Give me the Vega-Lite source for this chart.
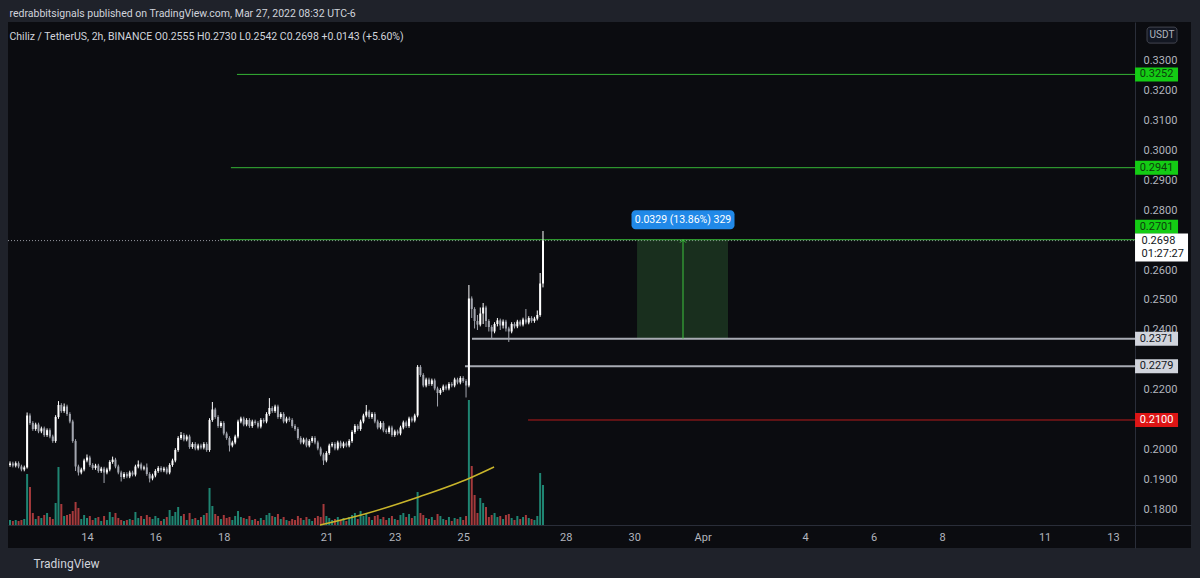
{
"$schema":"https://vega.github.io/schema/vega-lite/v6.json",
"width":1183,"height":526,
"autosize":{"type":"none"},
"padding":{"left":8,"top":22,"right":9,"bottom":30},
"background":"#1f222a",
"title":{"text":"redrabbitsignals published on TradingView.com, Mar 27, 2022 08:32 UTC-6","subtitle":"Chiliz / TetherUS, 2h, BINANCE  O0.2555  H0.2730  L0.2542  C0.2698  +0.0143 (+5.60%)","anchor":"start","offset":-20,"font":"Roboto","fontSize":10.5,"fontWeight":"normal","color":"#d1d4dc","subtitleFont":"Roboto","subtitleFontSize":10.5,"subtitleColor":"#d1d4dc","subtitlePadding":12,"dx":2},
"datasets":{
"candles":[
{"t":"2022-03-11T18:00","o":0.1950,"h":0.1962,"l":0.1944,"c":0.1955,"v":5},
{"t":"2022-03-11T20:00","o":0.1955,"h":0.1961,"l":0.1942,"c":0.1948,"v":4},
{"t":"2022-03-11T22:00","o":0.1948,"h":0.1962,"l":0.1942,"c":0.1956,"v":5},
{"t":"2022-03-12T00:00","o":0.1956,"h":0.1962,"l":0.1939,"c":0.1945,"v":4},
{"t":"2022-03-12T02:00","o":0.1945,"h":0.1951,"l":0.1929,"c":0.1935,"v":5},
{"t":"2022-03-12T04:00","o":0.1935,"h":0.1948,"l":0.1929,"c":0.1942,"v":6},
{"t":"2022-03-12T06:00","o":0.1942,"h":0.2125,"l":0.1938,"c":0.2115,"v":51},
{"t":"2022-03-12T08:00","o":0.2115,"h":0.2122,"l":0.2084,"c":0.2090,"v":38},
{"t":"2022-03-12T10:00","o":0.2090,"h":0.2096,"l":0.2064,"c":0.2070,"v":12},
{"t":"2022-03-12T12:00","o":0.2070,"h":0.2091,"l":0.2064,"c":0.2085,"v":6},
{"t":"2022-03-12T14:00","o":0.2085,"h":0.2091,"l":0.2056,"c":0.2062,"v":9},
{"t":"2022-03-12T16:00","o":0.2062,"h":0.2078,"l":0.2056,"c":0.2072,"v":7},
{"t":"2022-03-12T18:00","o":0.2072,"h":0.2078,"l":0.2044,"c":0.2050,"v":10},
{"t":"2022-03-12T20:00","o":0.2050,"h":0.2072,"l":0.2044,"c":0.2066,"v":12},
{"t":"2022-03-12T22:00","o":0.2066,"h":0.2072,"l":0.2039,"c":0.2045,"v":8},
{"t":"2022-03-13T00:00","o":0.2045,"h":0.2051,"l":0.2024,"c":0.2030,"v":6},
{"t":"2022-03-13T02:00","o":0.2030,"h":0.2116,"l":0.2024,"c":0.2110,"v":22},
{"t":"2022-03-13T04:00","o":0.2110,"h":0.2163,"l":0.2104,"c":0.2150,"v":58},
{"t":"2022-03-13T06:00","o":0.2150,"h":0.2156,"l":0.2124,"c":0.2130,"v":21},
{"t":"2022-03-13T08:00","o":0.2130,"h":0.2155,"l":0.2124,"c":0.2145,"v":9},
{"t":"2022-03-13T10:00","o":0.2145,"h":0.2151,"l":0.2114,"c":0.2120,"v":10},
{"t":"2022-03-13T12:00","o":0.2120,"h":0.2126,"l":0.2089,"c":0.2095,"v":11},
{"t":"2022-03-13T14:00","o":0.2095,"h":0.2101,"l":0.2024,"c":0.2030,"v":14},
{"t":"2022-03-13T16:00","o":0.2030,"h":0.2036,"l":0.1930,"c":0.1945,"v":23},
{"t":"2022-03-13T18:00","o":0.1945,"h":0.1951,"l":0.1915,"c":0.1925,"v":17},
{"t":"2022-03-13T20:00","o":0.1925,"h":0.1941,"l":0.1919,"c":0.1935,"v":6},
{"t":"2022-03-13T22:00","o":0.1935,"h":0.1971,"l":0.1929,"c":0.1965,"v":10},
{"t":"2022-03-14T00:00","o":0.1965,"h":0.1985,"l":0.1959,"c":0.1975,"v":7},
{"t":"2022-03-14T02:00","o":0.1975,"h":0.1981,"l":0.1944,"c":0.1950,"v":9},
{"t":"2022-03-14T04:00","o":0.1950,"h":0.1956,"l":0.1934,"c":0.1940,"v":5},
{"t":"2022-03-14T06:00","o":0.1940,"h":0.1954,"l":0.1934,"c":0.1948,"v":7},
{"t":"2022-03-14T08:00","o":0.1948,"h":0.1954,"l":0.1924,"c":0.1930,"v":8},
{"t":"2022-03-14T10:00","o":0.1930,"h":0.1944,"l":0.1924,"c":0.1938,"v":4},
{"t":"2022-03-14T12:00","o":0.1938,"h":0.1944,"l":0.1890,"c":0.1925,"v":9},
{"t":"2022-03-14T14:00","o":0.1925,"h":0.1941,"l":0.1919,"c":0.1935,"v":5},
{"t":"2022-03-14T16:00","o":0.1935,"h":0.1966,"l":0.1929,"c":0.1960,"v":13},
{"t":"2022-03-14T18:00","o":0.1960,"h":0.1978,"l":0.1954,"c":0.1968,"v":8},
{"t":"2022-03-14T20:00","o":0.1968,"h":0.1974,"l":0.1939,"c":0.1945,"v":12},
{"t":"2022-03-14T22:00","o":0.1945,"h":0.1951,"l":0.1919,"c":0.1925,"v":7},
{"t":"2022-03-15T00:00","o":0.1925,"h":0.1931,"l":0.1895,"c":0.1910,"v":5},
{"t":"2022-03-15T02:00","o":0.1910,"h":0.1926,"l":0.1904,"c":0.1920,"v":4},
{"t":"2022-03-15T04:00","o":0.1920,"h":0.1926,"l":0.1906,"c":0.1912,"v":5},
{"t":"2022-03-15T06:00","o":0.1912,"h":0.1931,"l":0.1906,"c":0.1925,"v":6},
{"t":"2022-03-15T08:00","o":0.1925,"h":0.1931,"l":0.1912,"c":0.1918,"v":5},
{"t":"2022-03-15T10:00","o":0.1918,"h":0.1951,"l":0.1912,"c":0.1945,"v":13},
{"t":"2022-03-15T12:00","o":0.1945,"h":0.1965,"l":0.1939,"c":0.1952,"v":7},
{"t":"2022-03-15T14:00","o":0.1952,"h":0.1958,"l":0.1932,"c":0.1938,"v":9},
{"t":"2022-03-15T16:00","o":0.1938,"h":0.1948,"l":0.1932,"c":0.1942,"v":6},
{"t":"2022-03-15T18:00","o":0.1942,"h":0.1955,"l":0.1914,"c":0.1920,"v":10},
{"t":"2022-03-15T20:00","o":0.1920,"h":0.1926,"l":0.1892,"c":0.1905,"v":8},
{"t":"2022-03-15T22:00","o":0.1905,"h":0.1921,"l":0.1899,"c":0.1915,"v":6},
{"t":"2022-03-16T00:00","o":0.1915,"h":0.1936,"l":0.1909,"c":0.1930,"v":9},
{"t":"2022-03-16T02:00","o":0.1930,"h":0.1946,"l":0.1924,"c":0.1940,"v":7},
{"t":"2022-03-16T04:00","o":0.1940,"h":0.1946,"l":0.1926,"c":0.1932,"v":4},
{"t":"2022-03-16T06:00","o":0.1932,"h":0.1944,"l":0.1926,"c":0.1938,"v":6},
{"t":"2022-03-16T08:00","o":0.1938,"h":0.1944,"l":0.1919,"c":0.1925,"v":8},
{"t":"2022-03-16T10:00","o":0.1925,"h":0.1956,"l":0.1919,"c":0.1950,"v":15},
{"t":"2022-03-16T12:00","o":0.1950,"h":0.1971,"l":0.1944,"c":0.1965,"v":9},
{"t":"2022-03-16T14:00","o":0.1965,"h":0.2006,"l":0.1959,"c":0.2000,"v":13},
{"t":"2022-03-16T16:00","o":0.2000,"h":0.2046,"l":0.1994,"c":0.2040,"v":18},
{"t":"2022-03-16T18:00","o":0.2040,"h":0.2060,"l":0.2034,"c":0.2050,"v":9},
{"t":"2022-03-16T20:00","o":0.2050,"h":0.2056,"l":0.2029,"c":0.2035,"v":11},
{"t":"2022-03-16T22:00","o":0.2035,"h":0.2051,"l":0.2029,"c":0.2045,"v":5},
{"t":"2022-03-17T00:00","o":0.2045,"h":0.2051,"l":0.2004,"c":0.2010,"v":12},
{"t":"2022-03-17T02:00","o":0.2010,"h":0.2026,"l":0.2004,"c":0.2020,"v":6},
{"t":"2022-03-17T04:00","o":0.2020,"h":0.2026,"l":0.1999,"c":0.2005,"v":7},
{"t":"2022-03-17T06:00","o":0.2005,"h":0.2021,"l":0.1999,"c":0.2015,"v":5},
{"t":"2022-03-17T08:00","o":0.2015,"h":0.2021,"l":0.2002,"c":0.2008,"v":8},
{"t":"2022-03-17T10:00","o":0.2008,"h":0.2026,"l":0.2002,"c":0.2020,"v":10},
{"t":"2022-03-17T12:00","o":0.2020,"h":0.2026,"l":0.1994,"c":0.2000,"v":12},
{"t":"2022-03-17T14:00","o":0.2000,"h":0.2106,"l":0.1994,"c":0.2100,"v":37},
{"t":"2022-03-17T16:00","o":0.2100,"h":0.2160,"l":0.2094,"c":0.2135,"v":19},
{"t":"2022-03-17T18:00","o":0.2135,"h":0.2141,"l":0.2104,"c":0.2110,"v":11},
{"t":"2022-03-17T20:00","o":0.2110,"h":0.2116,"l":0.2074,"c":0.2080,"v":9},
{"t":"2022-03-17T22:00","o":0.2080,"h":0.2096,"l":0.2074,"c":0.2090,"v":6},
{"t":"2022-03-18T00:00","o":0.2090,"h":0.2096,"l":0.2049,"c":0.2055,"v":10},
{"t":"2022-03-18T02:00","o":0.2055,"h":0.2061,"l":0.2034,"c":0.2040,"v":7},
{"t":"2022-03-18T04:00","o":0.2040,"h":0.2046,"l":0.1995,"c":0.2015,"v":8},
{"t":"2022-03-18T06:00","o":0.2015,"h":0.2031,"l":0.2009,"c":0.2025,"v":5},
{"t":"2022-03-18T08:00","o":0.2025,"h":0.2051,"l":0.2019,"c":0.2045,"v":9},
{"t":"2022-03-18T10:00","o":0.2045,"h":0.2101,"l":0.2039,"c":0.2095,"v":14},
{"t":"2022-03-18T12:00","o":0.2095,"h":0.2111,"l":0.2089,"c":0.2105,"v":8},
{"t":"2022-03-18T14:00","o":0.2105,"h":0.2111,"l":0.2079,"c":0.2085,"v":7},
{"t":"2022-03-18T16:00","o":0.2085,"h":0.2106,"l":0.2079,"c":0.2100,"v":6},
{"t":"2022-03-18T18:00","o":0.2100,"h":0.2106,"l":0.2074,"c":0.2080,"v":9},
{"t":"2022-03-18T20:00","o":0.2080,"h":0.2101,"l":0.2074,"c":0.2095,"v":5},
{"t":"2022-03-18T22:00","o":0.2095,"h":0.2101,"l":0.2084,"c":0.2090,"v":6},
{"t":"2022-03-19T00:00","o":0.2090,"h":0.2096,"l":0.2072,"c":0.2078,"v":4},
{"t":"2022-03-19T02:00","o":0.2078,"h":0.2106,"l":0.2072,"c":0.2100,"v":7},
{"t":"2022-03-19T04:00","o":0.2100,"h":0.2106,"l":0.2089,"c":0.2095,"v":5},
{"t":"2022-03-19T06:00","o":0.2095,"h":0.2126,"l":0.2089,"c":0.2120,"v":10},
{"t":"2022-03-19T08:00","o":0.2120,"h":0.2173,"l":0.2114,"c":0.2140,"v":12},
{"t":"2022-03-19T10:00","o":0.2140,"h":0.2146,"l":0.2124,"c":0.2130,"v":9},
{"t":"2022-03-19T12:00","o":0.2130,"h":0.2151,"l":0.2124,"c":0.2145,"v":8},
{"t":"2022-03-19T14:00","o":0.2145,"h":0.2151,"l":0.2104,"c":0.2110,"v":11},
{"t":"2022-03-19T16:00","o":0.2110,"h":0.2126,"l":0.2104,"c":0.2120,"v":6},
{"t":"2022-03-19T18:00","o":0.2120,"h":0.2126,"l":0.2089,"c":0.2095,"v":8},
{"t":"2022-03-19T20:00","o":0.2095,"h":0.2111,"l":0.2089,"c":0.2105,"v":5},
{"t":"2022-03-19T22:00","o":0.2105,"h":0.2111,"l":0.2094,"c":0.2100,"v":4},
{"t":"2022-03-20T00:00","o":0.2100,"h":0.2106,"l":0.2074,"c":0.2080,"v":6},
{"t":"2022-03-20T02:00","o":0.2080,"h":0.2086,"l":0.2064,"c":0.2070,"v":5},
{"t":"2022-03-20T04:00","o":0.2070,"h":0.2076,"l":0.2034,"c":0.2040,"v":9},
{"t":"2022-03-20T06:00","o":0.2040,"h":0.2046,"l":0.2019,"c":0.2025,"v":7},
{"t":"2022-03-20T08:00","o":0.2025,"h":0.2041,"l":0.2019,"c":0.2035,"v":5},
{"t":"2022-03-20T10:00","o":0.2035,"h":0.2041,"l":0.2009,"c":0.2015,"v":8},
{"t":"2022-03-20T12:00","o":0.2015,"h":0.2036,"l":0.2009,"c":0.2030,"v":6},
{"t":"2022-03-20T14:00","o":0.2030,"h":0.2046,"l":0.2024,"c":0.2040,"v":4},
{"t":"2022-03-20T16:00","o":0.2040,"h":0.2046,"l":0.2019,"c":0.2025,"v":7},
{"t":"2022-03-20T18:00","o":0.2025,"h":0.2031,"l":0.1999,"c":0.2005,"v":9},
{"t":"2022-03-20T20:00","o":0.2005,"h":0.2011,"l":0.1979,"c":0.1985,"v":8},
{"t":"2022-03-20T22:00","o":0.1985,"h":0.1991,"l":0.1950,"c":0.1965,"v":21},
{"t":"2022-03-21T00:00","o":0.1965,"h":0.1996,"l":0.1959,"c":0.1990,"v":9},
{"t":"2022-03-21T02:00","o":0.1990,"h":0.2021,"l":0.1984,"c":0.2015,"v":7},
{"t":"2022-03-21T04:00","o":0.2015,"h":0.2026,"l":0.2009,"c":0.2020,"v":5},
{"t":"2022-03-21T06:00","o":0.2020,"h":0.2026,"l":0.1999,"c":0.2005,"v":6},
{"t":"2022-03-21T08:00","o":0.2005,"h":0.2031,"l":0.1999,"c":0.2025,"v":8},
{"t":"2022-03-21T10:00","o":0.2025,"h":0.2031,"l":0.2006,"c":0.2012,"v":5},
{"t":"2022-03-21T12:00","o":0.2012,"h":0.2028,"l":0.2006,"c":0.2022,"v":7},
{"t":"2022-03-21T14:00","o":0.2022,"h":0.2028,"l":0.2009,"c":0.2015,"v":4},
{"t":"2022-03-21T16:00","o":0.2015,"h":0.2036,"l":0.2009,"c":0.2030,"v":8},
{"t":"2022-03-21T18:00","o":0.2030,"h":0.2066,"l":0.2024,"c":0.2060,"v":10},
{"t":"2022-03-21T20:00","o":0.2060,"h":0.2086,"l":0.2054,"c":0.2080,"v":12},
{"t":"2022-03-21T22:00","o":0.2080,"h":0.2086,"l":0.2064,"c":0.2070,"v":6},
{"t":"2022-03-22T00:00","o":0.2070,"h":0.2101,"l":0.2064,"c":0.2095,"v":14},
{"t":"2022-03-22T02:00","o":0.2095,"h":0.2121,"l":0.2089,"c":0.2115,"v":9},
{"t":"2022-03-22T04:00","o":0.2115,"h":0.2150,"l":0.2109,"c":0.2128,"v":11},
{"t":"2022-03-22T06:00","o":0.2128,"h":0.2134,"l":0.2104,"c":0.2110,"v":8},
{"t":"2022-03-22T08:00","o":0.2110,"h":0.2126,"l":0.2104,"c":0.2120,"v":5},
{"t":"2022-03-22T10:00","o":0.2120,"h":0.2126,"l":0.2089,"c":0.2095,"v":9},
{"t":"2022-03-22T12:00","o":0.2095,"h":0.2101,"l":0.2069,"c":0.2075,"v":10},
{"t":"2022-03-22T14:00","o":0.2075,"h":0.2096,"l":0.2069,"c":0.2090,"v":6},
{"t":"2022-03-22T16:00","o":0.2090,"h":0.2096,"l":0.2059,"c":0.2065,"v":8},
{"t":"2022-03-22T18:00","o":0.2065,"h":0.2071,"l":0.2054,"c":0.2060,"v":5},
{"t":"2022-03-22T20:00","o":0.2060,"h":0.2081,"l":0.2054,"c":0.2075,"v":7},
{"t":"2022-03-22T22:00","o":0.2075,"h":0.2081,"l":0.2044,"c":0.2050,"v":9},
{"t":"2022-03-23T00:00","o":0.2050,"h":0.2068,"l":0.2044,"c":0.2062,"v":6},
{"t":"2022-03-23T02:00","o":0.2062,"h":0.2068,"l":0.2049,"c":0.2055,"v":5},
{"t":"2022-03-23T04:00","o":0.2055,"h":0.2081,"l":0.2049,"c":0.2075,"v":10},
{"t":"2022-03-23T06:00","o":0.2075,"h":0.2098,"l":0.2069,"c":0.2092,"v":12},
{"t":"2022-03-23T08:00","o":0.2092,"h":0.2098,"l":0.2074,"c":0.2080,"v":8},
{"t":"2022-03-23T10:00","o":0.2080,"h":0.2111,"l":0.2074,"c":0.2105,"v":11},
{"t":"2022-03-23T12:00","o":0.2105,"h":0.2111,"l":0.2092,"c":0.2098,"v":7},
{"t":"2022-03-23T14:00","o":0.2098,"h":0.2121,"l":0.2092,"c":0.2115,"v":9},
{"t":"2022-03-23T16:00","o":0.2115,"h":0.2283,"l":0.2109,"c":0.2277,"v":33},
{"t":"2022-03-23T18:00","o":0.2277,"h":0.2283,"l":0.2244,"c":0.2250,"v":12},
{"t":"2022-03-23T20:00","o":0.2250,"h":0.2256,"l":0.2209,"c":0.2215,"v":10},
{"t":"2022-03-23T22:00","o":0.2215,"h":0.2241,"l":0.2209,"c":0.2235,"v":7},
{"t":"2022-03-24T00:00","o":0.2235,"h":0.2241,"l":0.2214,"c":0.2220,"v":6},
{"t":"2022-03-24T02:00","o":0.2220,"h":0.2238,"l":0.2214,"c":0.2232,"v":8},
{"t":"2022-03-24T04:00","o":0.2232,"h":0.2238,"l":0.2199,"c":0.2205,"v":5},
{"t":"2022-03-24T06:00","o":0.2205,"h":0.2211,"l":0.2145,"c":0.2190,"v":11},
{"t":"2022-03-24T08:00","o":0.2190,"h":0.2206,"l":0.2184,"c":0.2200,"v":9},
{"t":"2022-03-24T10:00","o":0.2200,"h":0.2218,"l":0.2194,"c":0.2212,"v":6},
{"t":"2022-03-24T12:00","o":0.2212,"h":0.2218,"l":0.2199,"c":0.2205,"v":5},
{"t":"2022-03-24T14:00","o":0.2205,"h":0.2226,"l":0.2199,"c":0.2220,"v":8},
{"t":"2022-03-24T16:00","o":0.2220,"h":0.2226,"l":0.2209,"c":0.2215,"v":4},
{"t":"2022-03-24T18:00","o":0.2215,"h":0.2241,"l":0.2209,"c":0.2235,"v":7},
{"t":"2022-03-24T20:00","o":0.2235,"h":0.2241,"l":0.2219,"c":0.2225,"v":6},
{"t":"2022-03-24T22:00","o":0.2225,"h":0.2246,"l":0.2219,"c":0.2240,"v":8},
{"t":"2022-03-25T00:00","o":0.2240,"h":0.2246,"l":0.2224,"c":0.2230,"v":5},
{"t":"2022-03-25T02:00","o":0.2230,"h":0.2236,"l":0.2175,"c":0.2215,"v":9},
{"t":"2022-03-25T04:00","o":0.2215,"h":0.2550,"l":0.2209,"c":0.2505,"v":125},
{"t":"2022-03-25T06:00","o":0.2505,"h":0.2512,"l":0.2440,"c":0.2470,"v":59},
{"t":"2022-03-25T08:00","o":0.2470,"h":0.2476,"l":0.2405,"c":0.2430,"v":30},
{"t":"2022-03-25T10:00","o":0.2430,"h":0.2450,"l":0.2400,"c":0.2418,"v":12},
{"t":"2022-03-25T12:00","o":0.2418,"h":0.2475,"l":0.2412,"c":0.2455,"v":27},
{"t":"2022-03-25T14:00","o":0.2455,"h":0.2490,"l":0.2420,"c":0.2475,"v":22},
{"t":"2022-03-25T16:00","o":0.2475,"h":0.2481,"l":0.2410,"c":0.2430,"v":18},
{"t":"2022-03-25T18:00","o":0.2430,"h":0.2436,"l":0.2395,"c":0.2410,"v":8},
{"t":"2022-03-25T20:00","o":0.2410,"h":0.2416,"l":0.2370,"c":0.2395,"v":10},
{"t":"2022-03-25T22:00","o":0.2395,"h":0.2426,"l":0.2389,"c":0.2420,"v":12},
{"t":"2022-03-26T00:00","o":0.2420,"h":0.2440,"l":0.2412,"c":0.2432,"v":8},
{"t":"2022-03-26T02:00","o":0.2432,"h":0.2438,"l":0.2400,"c":0.2415,"v":9},
{"t":"2022-03-26T04:00","o":0.2415,"h":0.2435,"l":0.2405,"c":0.2428,"v":6},
{"t":"2022-03-26T06:00","o":0.2428,"h":0.2434,"l":0.2395,"c":0.2405,"v":10},
{"t":"2022-03-26T08:00","o":0.2405,"h":0.2411,"l":0.2360,"c":0.2395,"v":11},
{"t":"2022-03-26T10:00","o":0.2395,"h":0.2426,"l":0.2389,"c":0.2420,"v":7},
{"t":"2022-03-26T12:00","o":0.2420,"h":0.2426,"l":0.2405,"c":0.2412,"v":5},
{"t":"2022-03-26T14:00","o":0.2412,"h":0.2434,"l":0.2406,"c":0.2428,"v":9},
{"t":"2022-03-26T16:00","o":0.2428,"h":0.2434,"l":0.2412,"c":0.2418,"v":6},
{"t":"2022-03-26T18:00","o":0.2418,"h":0.2441,"l":0.2412,"c":0.2435,"v":8},
{"t":"2022-03-26T20:00","o":0.2435,"h":0.2470,"l":0.2419,"c":0.2425,"v":10},
{"t":"2022-03-26T22:00","o":0.2425,"h":0.2446,"l":0.2419,"c":0.2440,"v":7},
{"t":"2022-03-27T00:00","o":0.2440,"h":0.2446,"l":0.2424,"c":0.2430,"v":6},
{"t":"2022-03-27T02:00","o":0.2430,"h":0.2444,"l":0.2424,"c":0.2438,"v":5},
{"t":"2022-03-27T04:00","o":0.2438,"h":0.2465,"l":0.2432,"c":0.2450,"v":9},
{"t":"2022-03-27T06:00","o":0.2450,"h":0.2590,"l":0.2444,"c":0.2555,"v":52},
{"t":"2022-03-27T08:00","o":0.2555,"h":0.2730,"l":0.2542,"c":0.2698,"v":40}
],
"levels":[
{"t":"2022-03-18T09:15","level":0.3252,"kind":"tp"},
{"t":"2022-03-18T05:00","level":0.2941,"kind":"tp"},
{"t":"2022-03-17T21:20","level":0.2701,"kind":"tp"},
{"t":"2022-03-25T06:10","level":0.2371,"kind":"entry"},
{"t":"2022-03-25T01:15","level":0.2279,"kind":"entry"},
{"t":"2022-03-26T21:30","level":0.2100,"kind":"stop"}
],
"curve":[
{"t":"2022-03-20T19:30","v":0},
{"t":"2022-03-22T01:40","v":10.5},
{"t":"2022-03-23T17:45","v":28.5},
{"t":"2022-03-25T04:50","v":47},
{"t":"2022-03-25T21:40","v":58}
],
"measure":[
{"t":"2022-03-30T02:00","t2":"2022-04-01T17:50","tm":"2022-03-31T10:15","low":0.2371,"high":0.2701,"label":"0.0329 (13.86%) 329"}
],
"current":[{"t":"2022-03-27T08:00","price":0.2698,"timer":"01:27:27","unit":"USDT"}]
},
"encoding":{
"x":{"field":"t","type":"temporal",
"scale":{"domain":[{"year":2022,"month":3,"date":11,"hours":16,"minutes":35},{"year":2022,"month":4,"date":15,"hours":6,"minutes":43}]},
"axis":{"orient":"bottom","offset":-23,
"values":[{"year":2022,"month":3,"date":14},{"year":2022,"month":3,"date":16},{"year":2022,"month":3,"date":18},{"year":2022,"month":3,"date":21},{"year":2022,"month":3,"date":23},{"year":2022,"month":3,"date":25},{"year":2022,"month":3,"date":28},{"year":2022,"month":3,"date":30},{"year":2022,"month":4,"date":1},{"year":2022,"month":4,"date":4},{"year":2022,"month":4,"date":6},{"year":2022,"month":4,"date":8},{"year":2022,"month":4,"date":11},{"year":2022,"month":4,"date":13}],
"labelExpr":"month(datum.value)==3 && date(datum.value)==1 ? 'Apr' : timeFormat(datum.value, '%-d')",
"labelPadding":6,"labelFlush":false,"labelOverlap":false,
"title":"TradingView","titleColor":"#d1d4dc","titleFontSize":12,"titleFontWeight":"normal","titleAnchor":"start","titleAlign":"left","titleX":25,"titleY":38,"titleBaseline":"middle"}}
},
"layer":[
{"layer":[
{"data":{"name":"candles"},"mark":{"type":"rule","strokeWidth":2},
"encoding":{"y":{"field":"v","type":"quantitative","title":null,"scale":{"domain":[-23,503],"nice":false,"zero":false},"axis":null},
"y2":{"datum":0},
"color":{"condition":{"test":"datum.c >= datum.o","value":"#1f8572"},"value":"#a63a3c"}}},
{"data":{"name":"curve"},"mark":{"type":"line","interpolate":"monotone","color":"#c9b52b","strokeWidth":1.5},
"encoding":{"y":{"field":"v","type":"quantitative","title":null,"scale":{"domain":[-23,503],"nice":false,"zero":false},"axis":null}}}
]},
{"layer":[
{"data":{"name":"measure"},"mark":{"type":"rect","color":"#4caf50","opacity":0.22},
"encoding":{"x2":{"field":"t2"},
"y":{"field":"low","type":"quantitative","title":null,"scale":{"domain":[0.167333,0.342667],"nice":false,"zero":false},
"axis":{"orient":"right","offset":-56,"values":[0.18,0.19,0.2,0.22,0.24,0.25,0.26,0.28,0.29,0.3,0.31,0.32,0.33],"format":".4f","labelAlign":"left","labelPadding":8,"labelFlush":false,"labelOverlap":false}},
"y2":{"field":"high"}}},
{"data":{"name":"current"},"mark":{"type":"rule","color":"#9598a1","strokeWidth":1,"strokeDash":[1,2]},
"encoding":{"x":{"datum":{"year":2022,"month":3,"date":11,"hours":16,"minutes":35},"type":"temporal"},
"x2":{"datum":{"year":2022,"month":4,"date":13,"hours":15,"minutes":26}},
"y":{"field":"price","type":"quantitative","title":null,"scale":{"domain":[0.167333,0.342667],"nice":false,"zero":false},
"axis":{"orient":"right","offset":-56,"values":[0.18,0.19,0.2,0.22,0.24,0.25,0.26,0.28,0.29,0.3,0.31,0.32,0.33],"format":".4f","labelAlign":"left","labelPadding":8,"labelFlush":false,"labelOverlap":false}}}},
{"data":{"name":"levels"},"mark":{"type":"rule"},
"encoding":{"x2":{"datum":{"year":2022,"month":4,"date":13,"hours":15,"minutes":26}},
"y":{"field":"level","type":"quantitative","title":null,"scale":{"domain":[0.167333,0.342667],"nice":false,"zero":false},
"axis":{"orient":"right","offset":-56,"values":[0.18,0.19,0.2,0.22,0.24,0.25,0.26,0.28,0.29,0.3,0.31,0.32,0.33],"format":".4f","labelAlign":"left","labelPadding":8,"labelFlush":false,"labelOverlap":false}},
"color":{"condition":[{"test":"datum.kind==='tp'","value":"#35b535"},{"test":"datum.kind==='stop'","value":"#b71c1c"}],"value":"#a8abb3"},
"strokeWidth":{"condition":{"test":"datum.kind==='entry'","value":2},"value":1}}},
{"data":{"name":"measure"},"mark":{"type":"rule","color":"#3cc43c","strokeWidth":1},
"encoding":{"x":{"field":"tm","type":"temporal"},
"y":{"field":"low","type":"quantitative","title":null,"scale":{"domain":[0.167333,0.342667],"nice":false,"zero":false},
"axis":{"orient":"right","offset":-56,"values":[0.18,0.19,0.2,0.22,0.24,0.25,0.26,0.28,0.29,0.3,0.31,0.32,0.33],"format":".4f","labelAlign":"left","labelPadding":8,"labelFlush":false,"labelOverlap":false}},
"y2":{"field":"high"}}},
{"data":{"name":"measure"},"mark":{"type":"point","shape":"M-1,1L0,0L1,1","filled":false,"stroke":"#3cc43c","strokeWidth":1,"size":36,"opacity":1},
"encoding":{"x":{"field":"tm","type":"temporal"},
"y":{"field":"high","type":"quantitative","title":null,"scale":{"domain":[0.167333,0.342667],"nice":false,"zero":false},
"axis":{"orient":"right","offset":-56,"values":[0.18,0.19,0.2,0.22,0.24,0.25,0.26,0.28,0.29,0.3,0.31,0.32,0.33],"format":".4f","labelAlign":"left","labelPadding":8,"labelFlush":false,"labelOverlap":false}}}},
{"data":{"name":"candles"},"mark":{"type":"rule","strokeWidth":1},
"encoding":{"y":{"field":"l","type":"quantitative","title":null,"scale":{"domain":[0.167333,0.342667],"nice":false,"zero":false},
"axis":{"orient":"right","offset":-56,"values":[0.18,0.19,0.2,0.22,0.24,0.25,0.26,0.28,0.29,0.3,0.31,0.32,0.33],"format":".4f","labelAlign":"left","labelPadding":8,"labelFlush":false,"labelOverlap":false}},
"y2":{"field":"h"},
"color":{"condition":{"test":"datum.c >= datum.o","value":"#ffffff"},"value":"#a3a6af"}}},
{"data":{"name":"candles"},"mark":{"type":"rule","strokeWidth":2,"strokeCap":"butt"},
"encoding":{"y":{"field":"o","type":"quantitative","title":null,"scale":{"domain":[0.167333,0.342667],"nice":false,"zero":false},
"axis":{"orient":"right","offset":-56,"values":[0.18,0.19,0.2,0.22,0.24,0.25,0.26,0.28,0.29,0.3,0.31,0.32,0.33],"format":".4f","labelAlign":"left","labelPadding":8,"labelFlush":false,"labelOverlap":false}},
"y2":{"field":"c"},
"color":{"condition":{"test":"datum.c >= datum.o","value":"#ffffff"},"value":"#a3a6af"}}},
{"data":{"name":"levels"},"transform":[{"filter":"datum.level !== 0.2701"}],"mark":{"type":"tick","orient":"horizontal","size":43,"thickness":14,"opacity":1},
"encoding":{"x":{"datum":{"year":2022,"month":4,"date":14,"hours":6,"minutes":32},"type":"temporal"},
"y":{"field":"level","type":"quantitative","title":null,"scale":{"domain":[0.167333,0.342667],"nice":false,"zero":false},
"axis":{"orient":"right","offset":-56,"values":[0.18,0.19,0.2,0.22,0.24,0.25,0.26,0.28,0.29,0.3,0.31,0.32,0.33],"format":".4f","labelAlign":"left","labelPadding":8,"labelFlush":false,"labelOverlap":false}},
"color":{"condition":[{"test":"datum.kind==='tp'","value":"#14cc14"},{"test":"datum.kind==='stop'","value":"#dd1515"}],"value":"#d1d4dc"}}},
{"data":{"name":"levels"},"transform":[{"filter":"datum.level !== 0.2701"}],"mark":{"type":"text","fontSize":11,"align":"center","baseline":"middle"},
"encoding":{"x":{"datum":{"year":2022,"month":4,"date":14,"hours":6,"minutes":32},"type":"temporal"},
"y":{"field":"level","type":"quantitative","title":null,"scale":{"domain":[0.167333,0.342667],"nice":false,"zero":false},
"axis":{"orient":"right","offset":-56,"values":[0.18,0.19,0.2,0.22,0.24,0.25,0.26,0.28,0.29,0.3,0.31,0.32,0.33],"format":".4f","labelAlign":"left","labelPadding":8,"labelFlush":false,"labelOverlap":false}},
"text":{"field":"level","format":".4f"},
"color":{"condition":[{"test":"datum.kind==='tp'","value":"#0d3d0d"},{"test":"datum.kind==='stop'","value":"#ffffff"}],"value":"#131722"}}},
{"data":{"name":"levels"},"transform":[{"filter":"datum.level === 0.2701"}],"mark":{"type":"tick","orient":"horizontal","size":43,"thickness":14,"opacity":1,"color":"#14cc14","yOffset":-13},
"encoding":{"x":{"datum":{"year":2022,"month":4,"date":14,"hours":6,"minutes":32},"type":"temporal"},
"y":{"field":"level","type":"quantitative","title":null,"scale":{"domain":[0.167333,0.342667],"nice":false,"zero":false},
"axis":{"orient":"right","offset":-56,"values":[0.18,0.19,0.2,0.22,0.24,0.25,0.26,0.28,0.29,0.3,0.31,0.32,0.33],"format":".4f","labelAlign":"left","labelPadding":8,"labelFlush":false,"labelOverlap":false}}}},
{"data":{"name":"levels"},"transform":[{"filter":"datum.level === 0.2701"}],"mark":{"type":"text","fontSize":11,"align":"center","baseline":"middle","color":"#0d3d0d","yOffset":-13},
"encoding":{"x":{"datum":{"year":2022,"month":4,"date":14,"hours":6,"minutes":32},"type":"temporal"},
"y":{"field":"level","type":"quantitative","title":null,"scale":{"domain":[0.167333,0.342667],"nice":false,"zero":false},
"axis":{"orient":"right","offset":-56,"values":[0.18,0.19,0.2,0.22,0.24,0.25,0.26,0.28,0.29,0.3,0.31,0.32,0.33],"format":".4f","labelAlign":"left","labelPadding":8,"labelFlush":false,"labelOverlap":false}},
"text":{"field":"level","format":".4f"}}},
{"data":{"name":"current"},"mark":{"type":"tick","orient":"horizontal","size":53,"thickness":28,"opacity":1,"color":"#ffffff","yOffset":7},
"encoding":{"x":{"datum":{"year":2022,"month":4,"date":14,"hours":10,"minutes":2},"type":"temporal"},
"y":{"field":"price","type":"quantitative","title":null,"scale":{"domain":[0.167333,0.342667],"nice":false,"zero":false},
"axis":{"orient":"right","offset":-56,"values":[0.18,0.19,0.2,0.22,0.24,0.25,0.26,0.28,0.29,0.3,0.31,0.32,0.33],"format":".4f","labelAlign":"left","labelPadding":8,"labelFlush":false,"labelOverlap":false}}}},
{"data":{"name":"current"},"mark":{"type":"text","fontSize":11,"align":"left","baseline":"middle","color":"#131722","dx":-20},
"encoding":{"x":{"datum":{"year":2022,"month":4,"date":14,"hours":10,"minutes":2},"type":"temporal"},
"y":{"field":"price","type":"quantitative","title":null,"scale":{"domain":[0.167333,0.342667],"nice":false,"zero":false},
"axis":{"orient":"right","offset":-56,"values":[0.18,0.19,0.2,0.22,0.24,0.25,0.26,0.28,0.29,0.3,0.31,0.32,0.33],"format":".4f","labelAlign":"left","labelPadding":8,"labelFlush":false,"labelOverlap":false}},
"text":{"field":"price","format":".4f"}}},
{"data":{"name":"current"},"mark":{"type":"text","fontSize":11,"align":"left","baseline":"middle","color":"#131722","dx":-20,"yOffset":13},
"encoding":{"x":{"datum":{"year":2022,"month":4,"date":14,"hours":10,"minutes":2},"type":"temporal"},
"y":{"field":"price","type":"quantitative","title":null,"scale":{"domain":[0.167333,0.342667],"nice":false,"zero":false},
"axis":{"orient":"right","offset":-56,"values":[0.18,0.19,0.2,0.22,0.24,0.25,0.26,0.28,0.29,0.3,0.31,0.32,0.33],"format":".4f","labelAlign":"left","labelPadding":8,"labelFlush":false,"labelOverlap":false}},
"text":{"field":"timer"}}},
{"data":{"name":"measure"},"mark":{"type":"tick","orient":"horizontal","size":103,"thickness":19,"opacity":1,"color":"#2189e8","cornerRadius":4,"yOffset":-20},
"encoding":{"x":{"field":"tm","type":"temporal"},
"y":{"field":"high","type":"quantitative","title":null,"scale":{"domain":[0.167333,0.342667],"nice":false,"zero":false},
"axis":{"orient":"right","offset":-56,"values":[0.18,0.19,0.2,0.22,0.24,0.25,0.26,0.28,0.29,0.3,0.31,0.32,0.33],"format":".4f","labelAlign":"left","labelPadding":8,"labelFlush":false,"labelOverlap":false}}}},
{"data":{"name":"measure"},"mark":{"type":"text","fontSize":10.5,"align":"center","baseline":"middle","color":"#ffffff","yOffset":-20},
"encoding":{"x":{"field":"tm","type":"temporal"},
"y":{"field":"high","type":"quantitative","title":null,"scale":{"domain":[0.167333,0.342667],"nice":false,"zero":false},
"axis":{"orient":"right","offset":-56,"values":[0.18,0.19,0.2,0.22,0.24,0.25,0.26,0.28,0.29,0.3,0.31,0.32,0.33],"format":".4f","labelAlign":"left","labelPadding":8,"labelFlush":false,"labelOverlap":false}},
"text":{"field":"label"}}},
{"data":{"name":"current"},"mark":{"type":"tick","orient":"horizontal","size":30,"thickness":16,"opacity":1,"color":"#131722","stroke":"#434651","strokeWidth":1,"cornerRadius":3},
"encoding":{"x":{"datum":{"year":2022,"month":4,"date":14,"hours":10,"minutes":23},"type":"temporal"},
"y":{"datum":0.3383,"type":"quantitative","title":null,"scale":{"domain":[0.167333,0.342667],"nice":false,"zero":false},
"axis":{"orient":"right","offset":-56,"values":[0.18,0.19,0.2,0.22,0.24,0.25,0.26,0.28,0.29,0.3,0.31,0.32,0.33],"format":".4f","labelAlign":"left","labelPadding":8,"labelFlush":false,"labelOverlap":false}}}},
{"data":{"name":"current"},"mark":{"type":"text","fontSize":10,"align":"center","baseline":"middle","color":"#b2b5be"},
"encoding":{"x":{"datum":{"year":2022,"month":4,"date":14,"hours":10,"minutes":23},"type":"temporal"},
"y":{"datum":0.3383,"type":"quantitative","title":null,"scale":{"domain":[0.167333,0.342667],"nice":false,"zero":false},
"axis":{"orient":"right","offset":-56,"values":[0.18,0.19,0.2,0.22,0.24,0.25,0.26,0.28,0.29,0.3,0.31,0.32,0.33],"format":".4f","labelAlign":"left","labelPadding":8,"labelFlush":false,"labelOverlap":false}},
"text":{"field":"unit"}}}
]}
],
"resolve":{"scale":{"y":"independent"},"axis":{"y":"independent"}},
"config":{"font":"Roboto","view":{"stroke":null,"fill":"#0b0c10"},
"axis":{"grid":false,"ticks":false,"labelColor":"#b2b5be","labelFontSize":11,"labelFont":"Roboto","domainColor":"#2a2e39","titleFont":"Roboto"}}
}
